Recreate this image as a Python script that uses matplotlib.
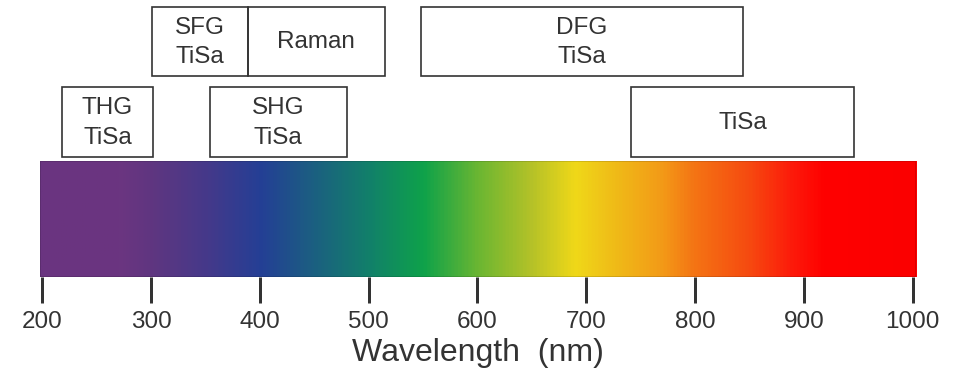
import numpy as np
import matplotlib
matplotlib.use("Agg")
import matplotlib.pyplot as plt
from matplotlib.colors import LinearSegmentedColormap, Normalize
from matplotlib.patches import Rectangle

plt.rcParams['font.family'] = ['Liberation Sans', 'DejaVu Sans']

# ---- data ----
spectrum_nm = [198, 270, 300, 350, 400, 450, 500, 550, 600, 650, 690, 720, 770, 800, 850, 890, 920, 1003]
spectrum_colors = ['#6a3480', '#6b3580', '#5f3680', '#45398a', '#243f95', '#1b6080',
                   '#12806a', '#0ea24a', '#6ab632', '#b5c228', '#f0d818', '#efc018',
                   '#f39a17', '#f47414', '#f64a10', '#fd1a0a', '#ff0000', '#fb0000']
spec_min, spec_max = 198, 1003

tick_values = [200, 300, 400, 500, 600, 700, 800, 900, 1000]
tick_labels = [str(v) for v in tick_values]
x_label = "Wavelength  (nm)"

box_labels = ["THG\nTiSa", "SHG\nTiSa", "TiSa", "SFG\nTiSa", "Raman", "DFG\nTiSa"]
box_start = [218, 354, 741, 301, 389, 548]
box_end = [302, 480, 946, 389, 515, 844]
box_row = [0, 0, 0, 1, 1, 1]

# ---- layout (pixels) ----
W, H = 966, 371
DPI = 100
bar_left, bar_right, bar_top, bar_bottom = 40, 916, 161, 277
row_top = {0: 87, 1: 7}
row_bottom = {0: 157, 1: 76}
txt_color = '#333333'

fig = plt.figure(figsize=(W / DPI, H / DPI), dpi=DPI)
fig.patch.set_facecolor('white')

ax = fig.add_axes([bar_left / W, (H - bar_bottom) / H,
                   (bar_right - bar_left) / W, (bar_bottom - bar_top) / H])
pos = [(v - spec_min) / (spec_max - spec_min) for v in spectrum_nm]
cmap = LinearSegmentedColormap.from_list('spec', list(zip(pos, spectrum_colors)))
grad = np.linspace(spec_min, spec_max, 1200)[None, :]
ax.imshow(grad, extent=[spec_min, spec_max, 0, 1], aspect='auto', cmap=cmap,
          norm=Normalize(spec_min, spec_max), interpolation='bilinear')
ax.add_patch(Rectangle((spec_min, 0), spec_max - spec_min, 1, fill=False,
                       edgecolor='#000000', alpha=0.15, lw=1.2))
ax.set_xlim(spec_min, spec_max)
ax.set_ylim(0, 1)
ax.set_yticks([])
ax.set_xticks(tick_values)
ax.set_xticklabels(tick_labels)
ax.tick_params(axis='x', direction='out', length=26 * 0.72, width=3 * 0.72,
               color=txt_color, labelcolor=txt_color, labelsize=17.5, pad=5.5)
for s in ax.spines.values():
    s.set_visible(False)
ax.set_xlabel(x_label, fontsize=23, color=txt_color, labelpad=4)

# overlay axes for boxes, same wavelength scale
scale = (bar_right - bar_left) / (spec_max - spec_min)
ax2 = fig.add_axes([0, 0, 1, 1])
ax2.set_xlim(spec_min - bar_left / scale, spec_min + (W - bar_left) / scale)
ax2.set_ylim(H, 0)
ax2.axis('off')
ax2.patch.set_alpha(0)
for lab, a, b, r in zip(box_labels, box_start, box_end, box_row):
    t, btm = row_top[r], row_bottom[r]
    ax2.add_patch(Rectangle((a, t), b - a, btm - t, fill=False,
                            edgecolor=txt_color, lw=1.2))
    ax2.text((a + b) / 2, (t + btm) / 2 + 1, lab, ha='center', va='center',
             fontsize=17.5, color=txt_color, linespacing=1.45)

fig.savefig('out.png', dpi=DPI, facecolor='white')
